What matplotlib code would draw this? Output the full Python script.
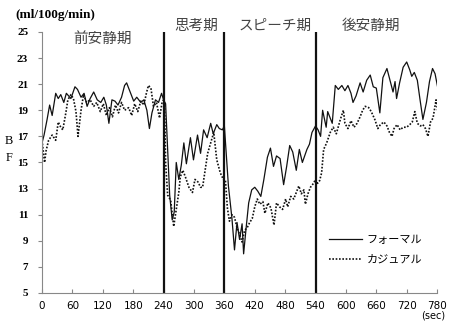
import matplotlib
matplotlib.use("Agg")
import matplotlib.pyplot as plt

plt.rcParams["font.family"] = ["DejaVu Sans"]

JP = ["Noto Sans CJK JP", "DejaVu Sans"]
SERIF = "Liberation Serif"

# values (sec, ml/100g/min)
formal_t = [0, 4, 10, 15, 20, 27, 32, 37, 43, 48, 57, 65, 70, 77, 83, 89, 95, 102, 109, 116,
            122, 127, 132, 138, 144, 150, 157, 163, 167, 175, 181, 187, 195, 201, 207, 212, 217, 224, 230, 236,
            240, 244, 248, 252, 257, 261, 265, 270, 275, 280, 285, 293, 299, 307, 313, 319, 326, 333, 338, 345,
            350, 356, 360, 364, 368, 375, 380, 385, 390, 395, 398, 403, 408, 414, 420, 426, 432, 438, 445, 451,
            457, 463, 470, 477, 483, 489, 495, 502, 508, 514, 523, 528, 533, 540, 545, 550, 554, 561, 564, 573,
            579, 585, 592, 598, 604, 610, 614, 620, 628, 634, 641, 648, 654, 660, 667, 673, 681, 687, 693, 697,
            700, 706, 713, 720, 726, 730, 735, 741, 746, 752, 759, 765, 771, 776, 781]
formal_v = [16.5, 17.1, 18.3, 19.4, 18.6, 20.3, 19.9, 20.2, 19.6, 20.3, 19.9, 20.8, 20.6, 20.0, 20.3, 19.3, 19.9, 20.4, 19.8, 19.6,
            20.0, 19.4, 18.0, 19.8, 19.7, 19.4, 20.0, 20.9, 21.1, 20.3, 19.7, 20.0, 19.6, 19.8, 19.0, 17.6, 18.8, 19.8, 19.6, 20.3,
            19.8, 19.5, 16.0, 12.5, 10.6, 11.2, 15.0, 13.7, 14.8, 16.5, 14.9, 16.9, 15.2, 17.1, 15.7, 17.5, 16.9, 18.0, 17.2, 17.9,
            17.6, 17.5, 17.8, 15.5, 13.2, 10.7, 8.3, 10.4, 9.1, 10.3, 8.0, 10.0, 11.9, 12.9, 13.1, 12.8, 12.4, 13.7, 15.4, 16.1,
            14.7, 15.5, 15.3, 13.3, 14.7, 16.3, 15.8, 14.4, 16.0, 15.0, 16.0, 16.4, 17.3, 17.8, 17.5, 17.0, 19.0, 17.7, 18.9, 18.0,
            20.9, 20.6, 20.9, 20.5, 20.9, 20.3, 19.6, 20.1, 21.1, 20.4, 21.3, 21.7, 20.8, 20.7, 18.8, 21.5, 22.2, 21.3, 20.4, 21.2,
            19.9, 21.1, 22.3, 22.7, 22.1, 21.6, 21.9, 21.3, 19.9, 18.3, 19.6, 21.2, 22.2, 21.8, 20.8]

casual_t = [0, 5, 8, 13, 20, 27, 32, 37, 41, 47, 51, 57, 62, 67, 71, 77, 82, 88, 95, 102,
            108, 115, 121, 127, 133, 139, 145, 151, 157, 163, 171, 177, 183, 189, 195, 201, 206, 210, 215, 220,
            226, 232, 237, 240, 242, 244, 248, 254, 260, 265, 270, 273, 278, 283, 290, 297, 302, 308, 313, 317,
            322, 327, 333, 339, 345, 352, 358, 362, 366, 370, 375, 380, 385, 390, 395, 400, 405, 410, 415, 420,
            425, 430, 436, 440, 446, 452, 458, 463, 469, 475, 481, 485, 491, 497, 502, 507, 512, 517, 520, 525,
            530, 536, 540, 544, 548, 552, 556, 562, 569, 575, 581, 589, 595, 598, 604, 610, 616, 622, 628, 633,
            638, 645, 650, 657, 663, 668, 675, 681, 686, 691, 695, 701, 707, 713, 720, 726, 731, 736, 741, 747,
            752, 757, 762, 767, 772, 778, 781]
casual_v = [16.7, 15.0, 15.9, 16.7, 17.1, 16.7, 18.1, 17.7, 17.5, 18.8, 19.8, 20.2, 19.9, 18.9, 17.0, 19.0, 20.2, 19.6, 19.8, 19.3,
            19.6, 18.9, 19.5, 18.6, 19.2, 18.5, 19.4, 18.8, 19.6, 19.0, 19.2, 18.6, 19.5, 18.9, 19.7, 19.4, 20.3, 20.9, 20.7, 19.3,
            19.6, 18.4, 19.6, 19.8, 19.5, 15.0, 12.5, 12.1, 10.1, 11.4, 12.7, 13.9, 14.4, 13.9, 13.1, 12.7, 13.7, 13.5, 13.1, 13.1,
            14.4, 15.7, 16.5, 17.3, 15.2, 14.2, 13.7, 13.7, 11.5, 10.5, 11.0, 10.8, 10.0, 9.5, 8.9, 9.8, 10.0, 10.4, 10.7, 11.6,
            12.2, 11.8, 12.0, 11.1, 11.9, 11.5, 10.2, 11.9, 11.6, 11.4, 12.2, 11.6, 12.4, 12.2, 12.7, 13.2, 12.6, 12.9, 11.8, 12.6,
            13.1, 13.4, 13.7, 13.4, 13.6, 14.2, 16.0, 16.5, 17.3, 17.7, 17.2, 18.3, 19.0, 18.0, 17.6, 18.2, 17.7, 18.0, 18.5, 19.0,
            19.3, 19.2, 18.9, 18.3, 17.6, 17.9, 18.1, 17.8, 17.3, 17.0, 17.6, 17.9, 17.5, 17.7, 17.7, 17.9, 18.1, 18.9, 18.0, 17.8,
            17.9, 17.6, 17.0, 18.1, 18.4, 19.8, 19.0]

phase_bounds = [240, 360, 540]
phase_names = ["前安静期", "思考期", "スピーチ期", "後安静期"]
phase_x = [120, 305, 460, 650]
phase_y = [24.5, 25.5, 25.5, 25.5]

x_ticks = list(range(0, 781, 60))
y_ticks = list(range(5, 26, 2))

fig = plt.figure(figsize=(4.52, 3.23), dpi=100)
ax = fig.add_axes([0.093, 0.093, 0.874, 0.808])

ax.plot(formal_t, formal_v, color="#111111", lw=0.9, label="フォーマル")
ax.plot(casual_t, casual_v, color="#111111", lw=1.2, ls=(0, (1, 1)), label="カジュアル")

for b in phase_bounds:
    ax.axvline(b, color="#111111", lw=1.6)

for name, px, py in zip(phase_names, phase_x, phase_y):
    ax.text(px, py, name, family=JP, fontsize=10.5, color="#444444",
            ha="center", va="center", clip_on=False)

ax.set_xlim(0, 780)
ax.set_ylim(5, 25)
ax.set_xticks(x_ticks)
ax.set_yticks(y_ticks)
for s in ["top", "right"]:
    ax.spines[s].set_visible(False)
for s in ["left", "bottom"]:
    ax.spines[s].set_color("#888888")
    ax.spines[s].set_linewidth(0.8)

ax.tick_params(axis="x", direction="in", length=3, color="#888888", labelsize=7.5, pad=6)
ax.tick_params(axis="y", direction="out", length=3, color="#888888", labelsize=8, pad=7)
for lab in ax.get_yticklabels():
    lab.set_family(SERIF)
    lab.set_fontweight("bold")

fig.text(15 / 452, 1 - 15 / 323, "(ml/100g/min)", family=SERIF, fontweight="bold",
         fontsize=9.5, ha="left", va="center")
fig.text(9 / 452, 1 - 141 / 323, "B", family=SERIF, fontsize=9, ha="center", va="center")
fig.text(9 / 452, 1 - 158 / 323, "F", family=SERIF, fontsize=9, ha="center", va="center")
fig.text(433 / 452, 1 - 315 / 323, "(sec)", fontsize=7, ha="center", va="center")

leg = ax.legend(loc="lower left", bbox_to_anchor=(0.7, 0.07), frameon=False,
                handlelength=3.0, handletextpad=0.4, labelspacing=0.9,
                prop={"family": JP, "size": 8})

fig.savefig("out.png", dpi=100)
